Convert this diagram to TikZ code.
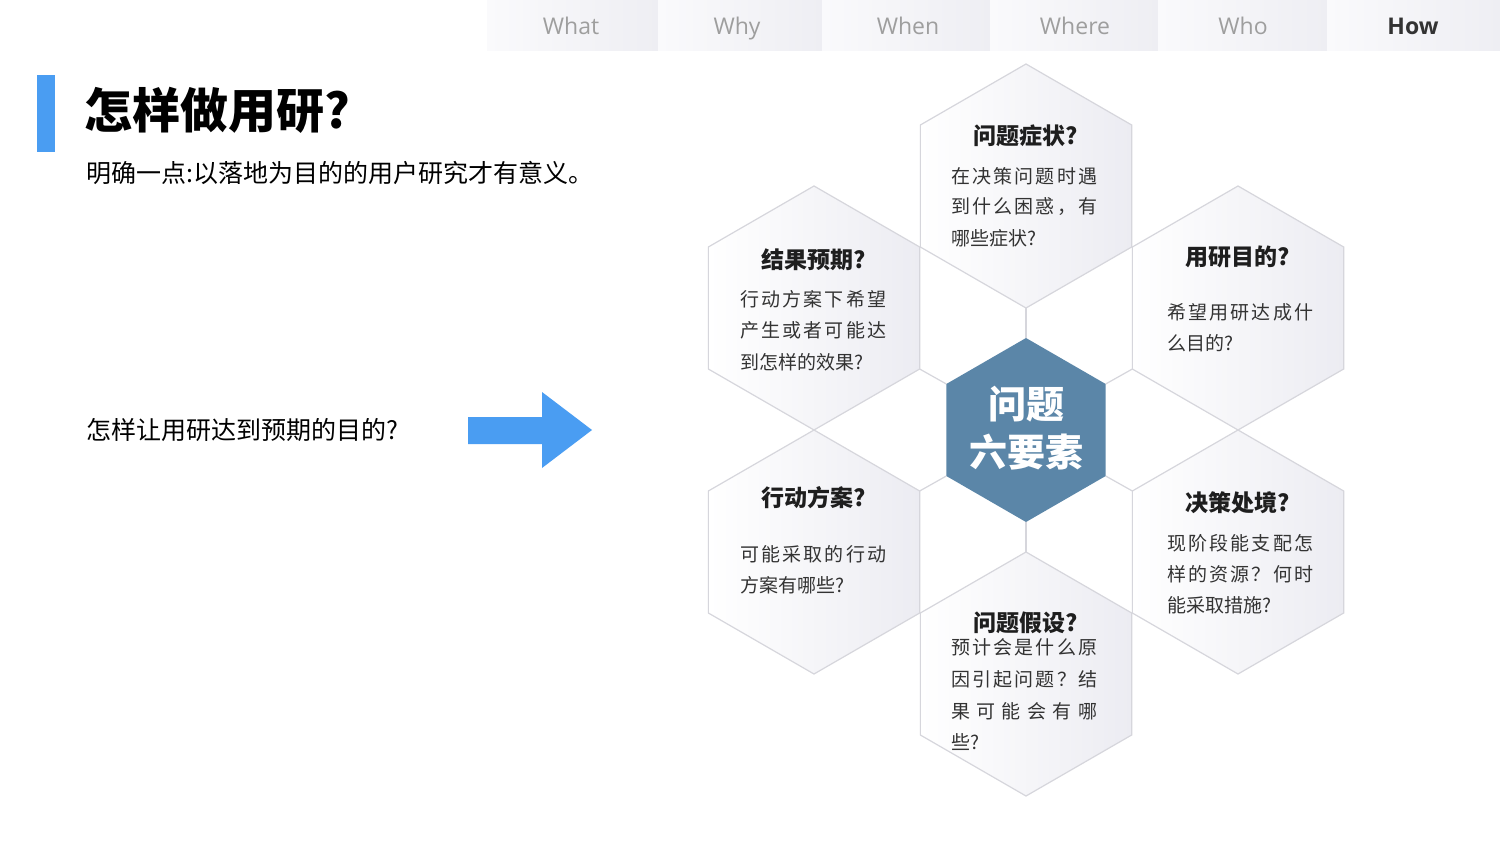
\documentclass[tikz,border=0pt]{standalone}
\usepackage{fontspec}
\setmainfont{Open Sans}
\newfontfamily\cjk{Noto Sans CJK SC}
\newfontfamily\cjkb{Noto Sans CJK SC Bold}
\newfontfamily\cjkh{Noto Sans CJK SC Black}
\definecolor{accentblue}{RGB}{74,157,242}
\definecolor{steel}{RGB}{91,134,168}
\definecolor{hexline}{RGB}{214,214,220}
\definecolor{hexgray}{RGB}{236,236,242}
\definecolor{bodytext}{RGB}{51,51,51}
\definecolor{titletext}{RGB}{30,30,30}
\definecolor{tabtext}{RGB}{158,158,158}
\definecolor{tabL}{RGB}{250,250,252}
\definecolor{tabR}{RGB}{238,238,243}
\newcommand\spreadline[1]{\makebox[146pt][s]{\spreadfirst#1\relax}}
\def\spreadfirst#1{#1\spreadrest}
\def\spreadrest#1{\ifx\relax#1\else\hfil#1\expandafter\spreadrest\fi}
\tikzset{
  hexa/.style={draw=hexline, line width=1.2pt, left color=white, right color=hexgray},
  conn/.style={draw=hexline, line width=1.2pt},
  tabbox/.style={left color=tabL, right color=tabR, minimum height=50pt, inner sep=0pt, anchor=north west, draw=none},
  tablabel/.style={font=\fontsize{23}{23}\selectfont, text=tabtext, inner sep=0pt},
  hextitle/.style={font=\cjkh\fontsize{23}{23}\selectfont, text=titletext, inner sep=0pt},
  body/.style={font=\cjk\fontsize{19}{19}\selectfont, text=bodytext, inner sep=0pt, anchor=west},
  lefttext/.style={font=\cjk\fontsize{25}{25}\selectfont, text=black, inner sep=0pt, anchor=west},
}
\begin{document}
\begin{tikzpicture}[x=1pt,y=-1pt]
\fill[white] (0,0) rectangle (1500,843);
\useasboundingbox (0,0) rectangle (1500,843);

% tabs
\node[tabbox, minimum width=171pt] (tab1) at (487,0) {};
\node[tabbox, minimum width=164pt] (tab2) at (658,0) {};
\node[tabbox, minimum width=168pt] (tab3) at (822,0) {};
\node[tabbox, minimum width=168pt] (tab4) at (990,0) {};
\node[tabbox, minimum width=169pt] (tab5) at (1158,0) {};
\node[tabbox, minimum width=173pt] (tab6) at (1327,0) {};
\node[tablabel, anchor=base] (l1) at (571,35) {What};
\node[tablabel, anchor=base] (l2) at (737,35) {Why};
\node[tablabel, anchor=base] (l3) at (908,35) {When};
\node[tablabel, anchor=base] (l4) at (1075,35) {Where};
\node[tablabel, anchor=base] (l5) at (1243,35) {Who};
\node[tablabel, anchor=base, font=\bfseries\fontsize{23}{23}\selectfont, text=bodytext] (l6) at (1413,35) {How};

% left part
\node[fill=accentblue, minimum width=18pt, minimum height=77pt, inner sep=0pt, anchor=north west] (bar) at (37,75) {};
\node[anchor=west, inner sep=0pt, font=\cjkh\fontsize{48}{48}\selectfont, text=black] (title) at (84,110) {怎样做用研?};
\node[lefttext] (sub) at (86,173) {明确一点:以落地为目的的用户研究才有意义。};
\node[lefttext] (ask) at (86,430) {怎样让用研达到预期的目的?};
\fill[accentblue] (468,417) -- (542,417) -- (542,392) -- (592,430) -- (542,468) -- (542,444) -- (468,444) -- cycle;

% hexagon geometry
\foreach \n/\cx/\cy/\r in {T/1026/186/122, TL/814/308/122, TR/1238/308/122, BL/814/552/122, BR/1238/552/122, B/1026/674/122, C/1026/430/92} {
  \path (\cx,\cy) coordinate (\n)
    +(-90:\r) coordinate (\n-top)
    +(-30:\r) coordinate (\n-ur)
    +(30:\r) coordinate (\n-lr)
    +(90:\r) coordinate (\n-bot)
    +(150:\r) coordinate (\n-ll)
    +(210:\r) coordinate (\n-ul);
}
\foreach \n in {T,TL,TR,BL,BR,B} {
  \path[hexa] (\n-top) -- (\n-ur) -- (\n-lr) -- (\n-bot) -- (\n-ll) -- (\n-ul) -- cycle;
}
\draw[conn] (T-bot) -- (C-top);
\draw[conn] (TL-lr) -- (C-ul);
\draw[conn] (TR-ll) -- (C-ur);
\draw[conn] (BL-ur) -- (C-ll);
\draw[conn] (BR-ul) -- (C-lr);
\draw[conn] (B-top) -- (C-bot);
\path[fill=steel] (C-top) -- (C-ur) -- (C-lr) -- (C-bot) -- (C-ll) -- (C-ul) -- cycle;
\node[font=\cjkh\fontsize{38}{38}\selectfont, text=white, inner sep=0pt] (c1) at (1026,404) {问题};
\node[font=\cjkh\fontsize{38}{38}\selectfont, text=white, inner sep=0pt] (c2) at (1026,452) {六要素};

% top
\node[hextitle] (t0) at (1026,136) {问题症状?};
\node[body] (t1) at (951,176) {\spreadline{在决策问题时遇}};
\node[body] (t2) at (951,207) {\spreadline{到什么困惑，有}};
\node[body] (t3) at (951,238) {哪些症状?};
% top-left
\node[hextitle] (tl0) at (814,260) {结果预期?};
\node[body] (tl1) at (740,299) {\spreadline{行动方案下希望}};
\node[body] (tl2) at (740,330) {\spreadline{产生或者可能达}};
\node[body] (tl3) at (740,362) {到怎样的效果?};
% top-right
\node[hextitle] (tr0) at (1238,257) {用研目的?};
\node[body] (tr1) at (1167,312) {\spreadline{希望用研达成什}};
\node[body] (tr2) at (1167,343) {么目的?};
% bottom-left
\node[hextitle] (bl0) at (814,498) {行动方案?};
\node[body] (bl1) at (740,554) {\spreadline{可能采取的行动}};
\node[body] (bl2) at (740,585) {方案有哪些?};
% bottom-right
\node[hextitle] (br0) at (1238,503) {决策处境?};
\node[body] (br1) at (1167,543) {\spreadline{现阶段能支配怎}};
\node[body] (br2) at (1167,574) {\spreadline{样的资源？何时}};
\node[body] (br3) at (1167,605) {能采取措施?};
% bottom
\node[hextitle] (b0) at (1026,623) {问题假设?};
\node[body] (b1) at (951,647) {\spreadline{预计会是什么原}};
\node[body] (b2) at (951,679) {\spreadline{因引起问题？结}};
\node[body] (b3) at (951,711) {\spreadline{果可能会有哪}};
\node[body] (b4) at (951,742) {些?};
\end{tikzpicture}
\end{document}
